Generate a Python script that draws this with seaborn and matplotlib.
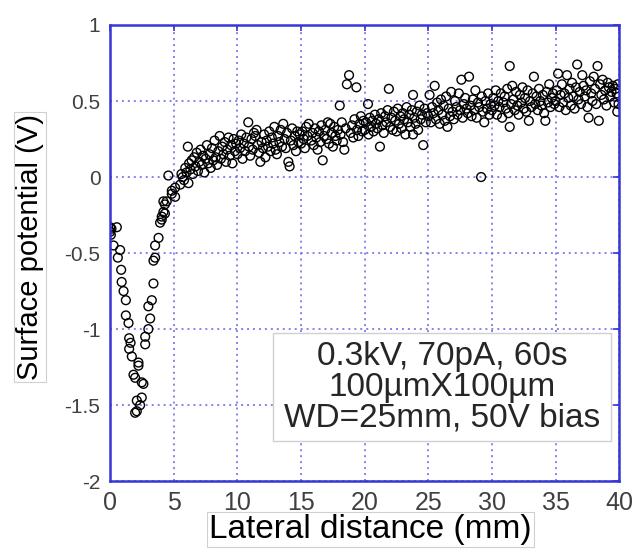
import matplotlib
matplotlib.use("Agg")
import numpy as np
import pandas as pd
import matplotlib.pyplot as plt
from matplotlib.patches import Rectangle
import seaborn as sns

sns.set_style("white")
plt.rcParams["font.family"] = ["Liberation Sans", "DejaVu Sans"]
plt.rcParams["axes.unicode_minus"] = False

# potential dip near the origin
x_dip = [0.0, 0.05, 0.1, 0.0, 0.26, 0.52, 0.6, 0.78, 0.86, 0.9, 1.05, 1.23, 1.23, 1.44,
         1.49, 1.49, 1.6, 1.7, 1.83, 1.96, 2.09, 2.22, 2.22, 2.35, 2.09, 1.96, 2.48,
         2.61, 2.48, 2.75, 2.75, 3.0, 3.14, 3.0, 3.27, 3.4, 3.53, 3.4, 3.53, 3.8, 3.92,
         4.05, 4.18, 4.05, 4.3, 4.18, 4.3, 4.44, 4.57, 4.84, 4.84, 5.1, 5.1, 5.5, 5.6]
y_dip = [-0.36, -0.38, -0.34, -0.33, -0.45, -0.33, -0.53, -0.48, -0.61, -0.69, -0.75,
         -0.81, -0.91, -0.96, -1.06, -1.13, -1.09, -1.18, -1.30, -1.32, -1.47, -1.24,
         -1.22, -1.50, -1.54, -1.55, -1.45, -1.36, -1.35, -1.10, -1.05, -1.0, -0.93,
         -0.85, -0.81, -0.70, -0.53, -0.55, -0.45, -0.40, -0.30, -0.26, -0.23, -0.28,
         -0.18, -0.16, -0.24, -0.16, 0.01, -0.11, -0.09, -0.07, -0.13, -0.05, 0.02]

# 5 - 10 mm
x_a = [5.7, 5.8, 5.9, 6.0, 6.1, 6.15, 6.2, 6.3, 6.4, 6.5, 6.6, 6.7, 6.8, 6.9, 7.0,
       7.1, 7.2, 7.3, 7.4, 7.5, 7.6, 7.7, 7.8, 7.9, 8.0, 8.1, 8.2, 8.3, 8.4, 8.5,
       8.6, 8.7, 8.8, 8.9, 9.0, 9.1, 9.2, 9.3, 9.4, 9.5, 9.6, 9.7, 9.8, 9.9]
y_a = [0.00, -0.02, 0.06, 0.03, 0.20, -0.04, 0.09, 0.05, 0.11, 0.02, 0.13, 0.07, 0.16,
       0.04, 0.10, 0.18, 0.08, 0.14, 0.03, 0.12, 0.21, 0.09, 0.15, 0.06, 0.19, 0.11,
       0.24, 0.13, 0.08, 0.17, 0.27, 0.12, 0.20, 0.15, 0.23, 0.10, 0.18, 0.26, 0.14,
       0.21, 0.09, 0.25, 0.17, 0.22]

# 10 - 15 mm
x_b = [10.0, 10.1, 10.2, 10.3, 10.4, 10.5, 10.6, 10.7, 10.85, 10.9, 11.0, 11.1, 11.2,
       11.3, 11.4, 11.5, 11.6, 11.7, 11.8, 11.9, 12.0, 12.1, 12.2, 12.3, 12.4, 12.5,
       12.6, 12.7, 12.8, 12.9, 13.0, 13.1, 13.2, 13.3, 13.4, 13.5, 13.6, 13.7, 13.8,
       13.9, 14.0, 14.1, 14.2, 14.3, 14.4, 14.5, 14.6, 14.7, 14.8, 14.9]
y_b = [0.15, 0.24, 0.19, 0.28, 0.12, 0.22, 0.17, 0.26, 0.36, 0.20, 0.14, 0.25, 0.18,
       0.29, 0.27, 0.31, 0.21, 0.16, 0.10, 0.23, 0.19, 0.28, 0.13, 0.24, 0.20, 0.30,
       0.17, 0.26, 0.22, 0.33, 0.18, 0.15, 0.27, 0.23, 0.31, 0.20, 0.35, 0.25, 0.19,
       0.29, 0.10, 0.07, 0.24, 0.32, 0.21, 0.27, 0.17, 0.30, 0.23, 0.28]

# 15 - 20 mm
x_c = [15.0, 15.1, 15.2, 15.3, 15.4, 15.5, 15.6, 15.8, 15.9, 16.0, 16.1, 16.2, 16.3,
       16.4, 16.5, 16.6, 16.7, 16.8, 16.9, 17.0, 17.1, 17.2, 17.3, 17.4, 17.5, 17.6,
       17.7, 17.8, 17.9, 18.04, 18.1, 18.2, 18.3, 18.4, 18.5, 18.6, 18.77, 18.9, 19.0,
       19.1, 19.2, 19.35, 19.4, 19.5, 19.6, 19.7, 19.8, 19.9]
y_c = [0.22, 0.30, 0.25, 0.19, 0.33, 0.27, 0.35, 0.24, 0.29, 0.21, 0.32, 0.26, 0.18,
       0.30, 0.23, 0.34, 0.11, 0.27, 0.31, 0.25, 0.36, 0.22, 0.35, 0.29, 0.20, 0.33,
       0.27, 0.24, 0.31, 0.47, 0.28, 0.36, 0.23, 0.18, 0.32, 0.61, 0.67, 0.29, 0.34,
       0.26, 0.38, 0.59, 0.31, 0.27, 0.35, 0.40, 0.30, 0.37]

# 20 - 25 mm
x_d = [20.0, 20.1, 20.26, 20.3, 20.4, 20.5, 20.6, 20.7, 20.8, 20.9, 21.0, 21.1, 21.2,
       21.3, 21.4, 21.5, 21.6, 21.7, 21.8, 21.9, 22.0, 22.1, 22.2, 22.3, 22.4, 22.5,
       22.6, 22.7, 22.8, 22.9, 23.0, 23.1, 23.2, 23.3, 23.4, 23.5, 23.6, 23.7, 23.8,
       23.8, 23.9, 24.0, 24.1, 24.2, 24.3, 24.4, 24.5, 24.6, 24.7, 24.8, 24.9]
y_d = [0.31, 0.36, 0.48, 0.28, 0.39, 0.33, 0.37, 0.30, 0.41, 0.35, 0.32, 0.38, 0.20,
       0.42, 0.34, 0.29, 0.40, 0.36, 0.44, 0.58, 0.33, 0.39, 0.31, 0.43, 0.37, 0.30,
       0.45, 0.35, 0.40, 0.32, 0.42, 0.38, 0.28, 0.46, 0.36, 0.41, 0.33, 0.44, 0.54,
       0.28, 0.39, 0.35, 0.43, 0.31, 0.47, 0.38, 0.41, 0.21, 0.45, 0.36, 0.42]

# 25 - 30 mm
x_e = [25.0, 25.1, 25.2, 25.3, 25.4, 25.5, 25.6, 25.7, 25.8, 25.9, 26.0, 26.1, 26.2,
       26.3, 26.4, 26.5, 26.6, 26.7, 26.8, 26.9, 27.0, 27.1, 27.2, 27.3, 27.4, 27.5,
       27.6, 27.7, 27.8, 27.9, 28.0, 28.1, 28.2, 28.3, 28.4, 28.5, 28.6, 28.7, 28.8,
       28.9, 29.0, 29.15, 29.2, 29.3, 29.4, 29.5, 29.6, 29.7, 29.8, 29.9]
y_e = [0.40, 0.54, 0.36, 0.46, 0.42, 0.60, 0.38, 0.49, 0.44, 0.35, 0.51, 0.41, 0.47,
       0.37, 0.53, 0.33, 0.45, 0.40, 0.56, 0.43, 0.38, 0.50, 0.46, 0.41, 0.55, 0.44,
       0.64, 0.39, 0.48, 0.52, 0.45, 0.42, 0.66, 0.47, 0.40, 0.51, 0.44, 0.57, 0.39,
       0.49, 0.46, 0.00, 0.53, 0.43, 0.36, 0.50, 0.45, 0.55, 0.41, 0.48]

# 30 - 35 mm
x_f = [30.0, 30.1, 30.2, 30.3, 30.4, 30.5, 30.6, 30.7, 30.8, 30.9, 31.0, 31.1, 31.2,
       31.3, 31.4, 31.4, 31.5, 31.6, 31.7, 31.8, 31.9, 32.0, 32.1, 32.2, 32.3, 32.4,
       32.5, 32.6, 32.7, 32.8, 32.9, 33.0, 33.1, 33.2, 33.3, 33.4, 33.5, 33.6, 33.7,
       33.8, 33.9, 34.0, 34.1, 34.2, 34.3, 34.4, 34.5, 34.6, 34.7, 34.8, 34.9]
y_f = [0.44, 0.52, 0.47, 0.57, 0.41, 0.50, 0.46, 0.55, 0.39, 0.49, 0.53, 0.45, 0.58,
       0.42, 0.73, 0.33, 0.48, 0.60, 0.51, 0.44, 0.56, 0.47, 0.41, 0.54, 0.49, 0.59,
       0.45, 0.52, 0.43, 0.57, 0.37, 0.50, 0.46, 0.55, 0.66, 0.48, 0.53, 0.44, 0.58,
       0.50, 0.47, 0.54, 0.42, 0.37, 0.56, 0.49, 0.61, 0.46, 0.52, 0.55, 0.48]

# 35 - 40 mm
x_g = [35.0, 35.1, 35.2, 35.3, 35.4, 35.5, 35.6, 35.7, 35.8, 35.9, 36.0, 36.1, 36.2,
       36.3, 36.4, 36.5, 36.6, 36.7, 36.8, 36.9, 37.0, 37.1, 37.2, 37.3, 37.4, 37.5,
       37.6, 37.7, 37.8, 37.9, 38.0, 38.1, 38.2, 38.3, 38.4, 38.5, 38.6, 38.7, 38.8,
       38.9, 39.0, 39.1, 39.2, 39.3, 39.4, 39.5, 39.6, 39.7, 39.8, 39.85, 39.9, 39.95]
y_g = [0.50, 0.57, 0.68, 0.46, 0.54, 0.61, 0.49, 0.55, 0.44, 0.67, 0.52, 0.58, 0.47,
       0.62, 0.53, 0.45, 0.59, 0.74, 0.51, 0.56, 0.48, 0.67, 0.60, 0.53, 0.57, 0.46,
       0.39, 0.63, 0.55, 0.50, 0.66, 0.58, 0.48, 0.73, 0.37, 0.61, 0.54, 0.64, 0.51,
       0.57, 0.47, 0.62, 0.59, 0.53, 0.56, 0.60, 0.49, 0.58, 0.55, 0.43, 0.61, 0.48]

x_ticks = [0, 5, 10, 15, 20, 25, 30, 35, 40]
x_tick_labels = ["0", "5", "10", "15", "20", "25", "30", "35", "40"]
y_ticks = [-2, -1.5, -1, -0.5, 0, 0.5, 1]
y_tick_labels = ["-2", "-1.5", "-1", "-0.5", "0", "0.5", "1"]
note = "0.3kV, 70pA, 60s\n100\u00b5mX100\u00b5m\nWD=25mm, 50V bias"

df = pd.DataFrame({
    "distance": np.concatenate([x_dip, x_a, x_b, x_c, x_d, x_e, x_f, x_g]),
    "potential": np.concatenate([y_dip, y_a, y_b, y_c, y_d, y_e, y_f, y_g]),
})

blue = "#3535d8"

fig = plt.figure(figsize=(6.37, 5.55), dpi=100)
ax = fig.add_axes([0.173, 0.133, 0.799, 0.822])

sns.scatterplot(data=df, x="distance", y="potential", ax=ax, marker="o",
                s=40, edgecolor="black", linewidth=1.0, legend=False)
ax.collections[0].set_facecolor("none")

ax.set_xlim(0, 40)
ax.set_ylim(-2, 1)
ax.set_xticks(x_ticks)
ax.set_xticklabels(x_tick_labels)
ax.set_yticks(y_ticks)
ax.set_yticklabels(y_tick_labels)
ax.grid(True, color="#6464e4", linestyle=(0, (1.3, 2.6)), linewidth=1.1)
ax.set_axisbelow(True)
for sp in ax.spines.values():
    sp.set_color(blue)
    sp.set_linewidth(1.8)
ax.tick_params(direction="in", length=4, width=1.2, color=blue, labelcolor="#404040",
               top=True, right=True)
ax.tick_params(axis="x", labelsize=18, pad=7)
ax.tick_params(axis="y", labelsize=15, pad=7)

lab_box = dict(facecolor="white", edgecolor="#d0d0d0", linewidth=0.8, pad=1.5)
ax.set_xlabel("Lateral distance (mm)", fontsize=24, color="black", bbox=lab_box)
ax.set_ylabel("Surface potential (V)", fontsize=21, color="black", bbox=lab_box)
ax.xaxis.set_label_coords(0.511, -0.073)
ax.yaxis.set_label_coords(-0.13, 0.513)

ax.add_patch(Rectangle((0.320, 0.088), 0.664, 0.237, transform=ax.transAxes,
                       facecolor="white", edgecolor="#d0d0d0", linewidth=1, zorder=5))
ax.text(0.652, 0.206, note, transform=ax.transAxes, ha="center", va="center",
        multialignment="center", fontsize=24, linespacing=1.0, zorder=6)

fig.savefig("out.png", dpi=100)
